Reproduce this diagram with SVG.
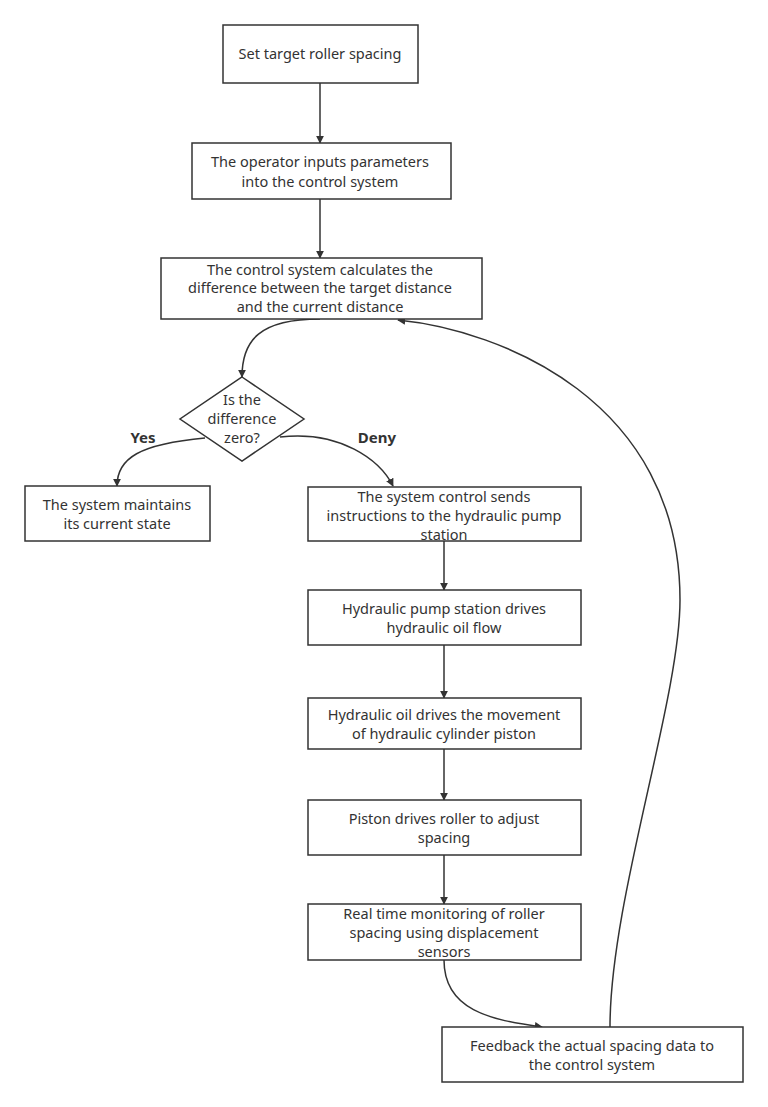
<svg xmlns="http://www.w3.org/2000/svg" width="768" height="1107" viewBox="0 0 768 1107">
<style>
.n{fill:#fff;stroke:#333;stroke-width:1.5}
text{font-family:"Noto Sans","Open Sans",sans-serif;font-size:14.5px;fill:#333;text-anchor:middle}
.l{font-weight:bold;font-size:15px}
.c{fill:none;stroke:#333;stroke-width:1.5;marker-end:url(#a)}
</style>
<defs><marker id="a" viewBox="0 0 10 10" refX="9" refY="5" markerWidth="8" markerHeight="8" orient="auto" markerUnits="userSpaceOnUse"><path d="M0,0L10,5L0,10z" fill="#333"/></marker></defs>
<rect width="768" height="1107" fill="#fff"/>
<g id="connectors">
<path class="c" d="M320,83V143"/>
<path class="c" d="M320,199V258"/>
<path class="c" d="M320,319C260,319 242,340 242,377"/>
<path class="c" d="M205,438C140,444 117,458 117,486"/>
<path class="c" d="M280,437C340,430 380,460 393,486"/>
<path class="c" d="M444,541V590"/>
<path class="c" d="M444,645V698"/>
<path class="c" d="M444,749V800"/>
<path class="c" d="M444,855V904"/>
<path class="c" d="M444,960C444,1010 490,1020 542,1027"/>
<path class="c" d="M610,1027C610,900 680,700 680,600C680,400 500,330 398,320"/>
<text class="l" x="143" y="443">Yes</text>
<text class="l" x="377" y="443">Deny</text>
</g>
<g id="n1"><rect class="n" x="223" y="25" width="195" height="58"/><text x="320" y="59">Set target roller spacing</text></g>
<g id="n2"><rect class="n" x="192" y="143" width="259" height="56"/><text x="320" y="167">The operator inputs parameters</text><text x="320" y="187">into the control system</text></g>
<g id="n3"><rect class="n" x="161" y="258" width="321" height="61"/><text x="320" y="275">The control system calculates the</text><text x="320" y="293">difference between the target distance</text><text x="320" y="312">and the current distance</text></g>
<g id="d"><polygon class="n" points="242,377 304,419 242,461 180,419"/><text x="242" y="405">Is the</text><text x="242" y="424">difference</text><text x="242" y="443">zero?</text></g>
<g id="yes"><rect class="n" x="25" y="486" width="185" height="55"/><text x="117" y="510">The system maintains</text><text x="117" y="529">its current state</text></g>
<g id="n4"><rect class="n" x="308" y="487" width="273" height="54"/><text x="444" y="502">The system control sends</text><text x="444" y="521">instructions to the hydraulic pump</text><text x="444" y="540">station</text></g>
<g id="n5"><rect class="n" x="308" y="590" width="273" height="55"/><text x="444" y="614">Hydraulic pump station drives</text><text x="444" y="633">hydraulic oil flow</text></g>
<g id="n6"><rect class="n" x="308" y="698" width="273" height="51"/><text x="444" y="720">Hydraulic oil drives the movement</text><text x="444" y="739">of hydraulic cylinder piston</text></g>
<g id="n7"><rect class="n" x="308" y="800" width="273" height="55"/><text x="444" y="824">Piston drives roller to adjust</text><text x="444" y="843">spacing</text></g>
<g id="n8"><rect class="n" x="308" y="904" width="273" height="56"/><text x="444" y="919">Real time monitoring of roller</text><text x="444" y="938">spacing using displacement</text><text x="444" y="957">sensors</text></g>
<g id="n9"><rect class="n" x="442" y="1027" width="301" height="55"/><text x="592" y="1051">Feedback the actual spacing data to</text><text x="592" y="1070">the control system</text></g>
</svg>
